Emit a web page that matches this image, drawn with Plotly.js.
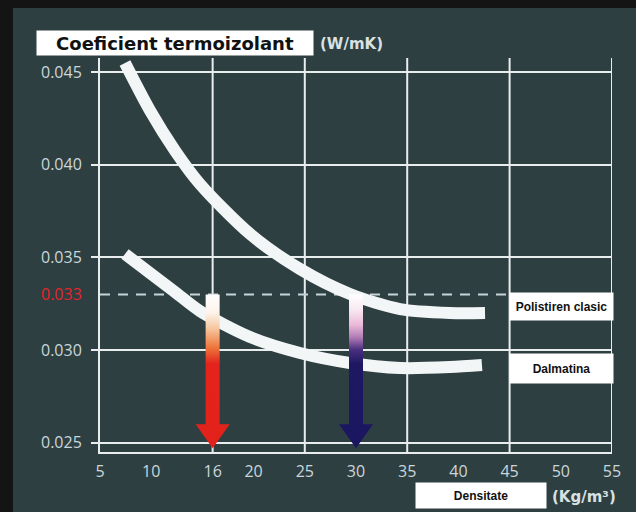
<!DOCTYPE html>
<html>
<head>
<meta charset="utf-8">
<script src="https://cdn.plot.ly/plotly-3.0.1.min.js"></script>
<style>
  html, body { margin: 0; padding: 0; background: #141414; width: 636px; height: 512px; overflow: hidden; }
  #chart { position: absolute; left: 13px; top: 8px; width: 623px; height: 504px; }
</style>
</head>
<body>
<div id="chart"></div>
<script>
// ---- data ----
const xTicks = [5, 10, 16, 20, 25, 30, 35, 40, 45, 50, 55];
const yTicks = [0.025, 0.030, 0.035, 0.040, 0.045];
const yTickLabels = ['0.025', '0.030', '0.035', '0.040', '0.045'];
const xGrid = [16, 25, 35, 45, 55];
const markValue = 0.033;
const markLabel = '0.033';
const seriesNames = ['Polistiren clasic', 'Dalmatina'];
const polistirenX = [7.44, 9.88, 12.32, 14.77, 19.65, 24.53, 29.41, 34.3, 39.18, 42.6];
const polistirenY = [0.04548, 0.04292, 0.04076, 0.03895, 0.03626, 0.03437, 0.03302, 0.03221, 0.03200, 0.03200];
const dalmatinaX = [7.44, 9.88, 12.32, 14.77, 19.65, 24.53, 29.41, 34.3, 39.18, 42.3];
const dalmatinaY = [0.03518, 0.03415, 0.03313, 0.03210, 0.03070, 0.02984, 0.02930, 0.02903, 0.02908, 0.02919];
const arrowX = [16, 30];
const arrowTip = [0.0247, 0.0247];
const titleText = 'Coeficient termoizolant';
const yUnit = '(W/mK)';
const xTitleText = 'Densitate';
const xUnit = '(Kg/m³)';

// ---- geometry / style ----
const xRange = [5, 55];
const yRange = [0.0245, 0.04575];
const plotW = 512, plotH = 394;
const dxPx = (xRange[1] - xRange[0]) / plotW;
const dyPx = (yRange[1] - yRange[0]) / plotH;

const lineColor = '#e9eded';
const tickFont = { family: 'Open Sans', size: 16, color: '#cad6da' };

const traces = [];
traces.push({
  x: polistirenX, y: polistirenY, mode: 'lines', name: seriesNames[0],
  line: { color: '#f3f6f6', width: 12, shape: 'spline', smoothing: 0.8 }, hoverinfo: 'skip'
});
traces.push({
  x: dalmatinaX, y: dalmatinaY, mode: 'lines', name: seriesNames[1],
  line: { color: '#f3f6f6', width: 12, shape: 'spline', smoothing: 0.8 }, hoverinfo: 'skip'
});

const arrowScales = [
  [[0, '#e3211b'], [0.55, '#e3241c'], [0.66, '#ee7a3e'], [0.78, '#f6c7a0'], [0.88, '#fdf3ea'], [1, '#ffffff']],
  [[0, '#1b1660'], [0.55, '#1e1862'], [0.64, '#4a2f80'], [0.72, '#b07ab5'], [0.8, '#eab8d8'], [0.9, '#f8e8f1'], [1, '#ffffff']]
];
arrowX.forEach((ax, i) => {
  const sw = 7 * dxPx, hw = 17 * dxPx;
  const top = markValue, tip = arrowTip[i];
  const headTop = tip + 24 * dyPx;
  traces.push({
    x: [ax - sw, ax + sw, ax + sw, ax + hw, ax, ax - hw, ax - sw, ax - sw],
    y: [top, top, headTop, headTop, tip, headTop, headTop, top],
    mode: 'lines', line: { width: 0, color: 'rgba(0,0,0,0)' },
    fill: 'toself',
    fillgradient: { type: 'vertical', colorscale: arrowScales[i], start: tip, stop: top },
    hoverinfo: 'skip', showlegend: false
  });
});

const shapes = xGrid.map(g => ({
  type: 'line', xref: 'x', yref: 'paper', x0: g, x1: g, y0: 0, y1: 1,
  line: { color: lineColor, width: 2 }, layer: 'below'
}));
shapes.push({
  type: 'line', xref: 'x', yref: 'y', x0: xRange[0], x1: 45, y0: markValue, y1: markValue,
  line: { color: '#c4d4d9', width: 2, dash: '10px,8px' }, layer: 'below'
});

function px(X) { return (X - 100) / plotW; }
function py(Y) { return (452 - Y) / plotH; }

const annotations = [
  { xref: 'paper', yref: 'paper', x: px(175), y: py(43), xanchor: 'center', yanchor: 'middle',
    text: '<b>' + titleText + '</b>', showarrow: false, width: 276, height: 24, bgcolor: '#ffffff', borderpad: 0,
    font: { family: 'DejaVu Sans', size: 18, color: '#111111' } },
  { xref: 'paper', yref: 'paper', x: px(318), y: py(44), xanchor: 'left', yanchor: 'middle',
    text: '<b>' + yUnit + '</b>', showarrow: false,
    font: { family: 'DejaVu Sans', size: 15, color: '#d9e1e3' } },
  { xref: 'paper', yref: 'paper', x: px(481), y: py(495.5), xanchor: 'center', yanchor: 'middle',
    text: '<b>' + xTitleText + '</b>', showarrow: false, width: 130, height: 25, bgcolor: '#ffffff', borderpad: 0,
    font: { family: 'Liberation Sans', size: 12, color: '#111111' } },
  { xref: 'paper', yref: 'paper', x: px(550), y: py(497), xanchor: 'left', yanchor: 'middle',
    text: '<b>' + xUnit + '</b>', showarrow: false,
    font: { family: 'DejaVu Sans', size: 15, color: '#d9e1e3' } },
  { xref: 'paper', yref: 'paper', x: px(561.5), y: py(306.5), xanchor: 'center', yanchor: 'middle',
    text: '<b>' + seriesNames[0] + '</b>', showarrow: false, width: 103, height: 27, bgcolor: '#ffffff', borderpad: 0,
    font: { family: 'Liberation Sans', size: 12, color: '#111111' } },
  { xref: 'paper', yref: 'paper', x: px(561.5), y: py(368.5), xanchor: 'center', yanchor: 'middle',
    text: '<b>' + seriesNames[1] + '</b>', showarrow: false, width: 103, height: 29, bgcolor: '#ffffff', borderpad: 0,
    font: { family: 'Liberation Sans', size: 12, color: '#111111' } },
  { xref: 'paper', yref: 'y', x: px(84), y: markValue, xanchor: 'right', yanchor: 'middle',
    text: markLabel, showarrow: false,
    font: { family: 'Open Sans', size: 16, color: '#e2262b' } }
];

const layout = {
  width: 623, height: 504,
  margin: { l: 87, r: 24, t: 50, b: 60, pad: 0 },
  paper_bgcolor: '#2e3f42', plot_bgcolor: '#2e3f42',
  showlegend: false,
  xaxis: {
    range: xRange, tickmode: 'array', tickvals: xTicks, ticktext: xTicks.map(String),
    showgrid: false, zeroline: false, showline: true, linecolor: lineColor, linewidth: 2,
    ticks: '', tickfont: tickFont, ticklabelstandoff: 4, fixedrange: true
  },
  yaxis: {
    range: yRange, tickmode: 'array', tickvals: yTicks, ticktext: yTickLabels,
    showgrid: true, gridcolor: lineColor, gridwidth: 2, zeroline: false,
    showline: true, linecolor: lineColor, linewidth: 2,
    ticks: 'outside', ticklen: 7, tickwidth: 2, tickcolor: lineColor,
    tickfont: tickFont, ticklabelstandoff: 6, fixedrange: true
  },
  shapes: shapes,
  annotations: annotations
};

Plotly.newPlot('chart', traces, layout, { displayModeBar: false, staticPlot: true });
</script>
</body>
</html>
